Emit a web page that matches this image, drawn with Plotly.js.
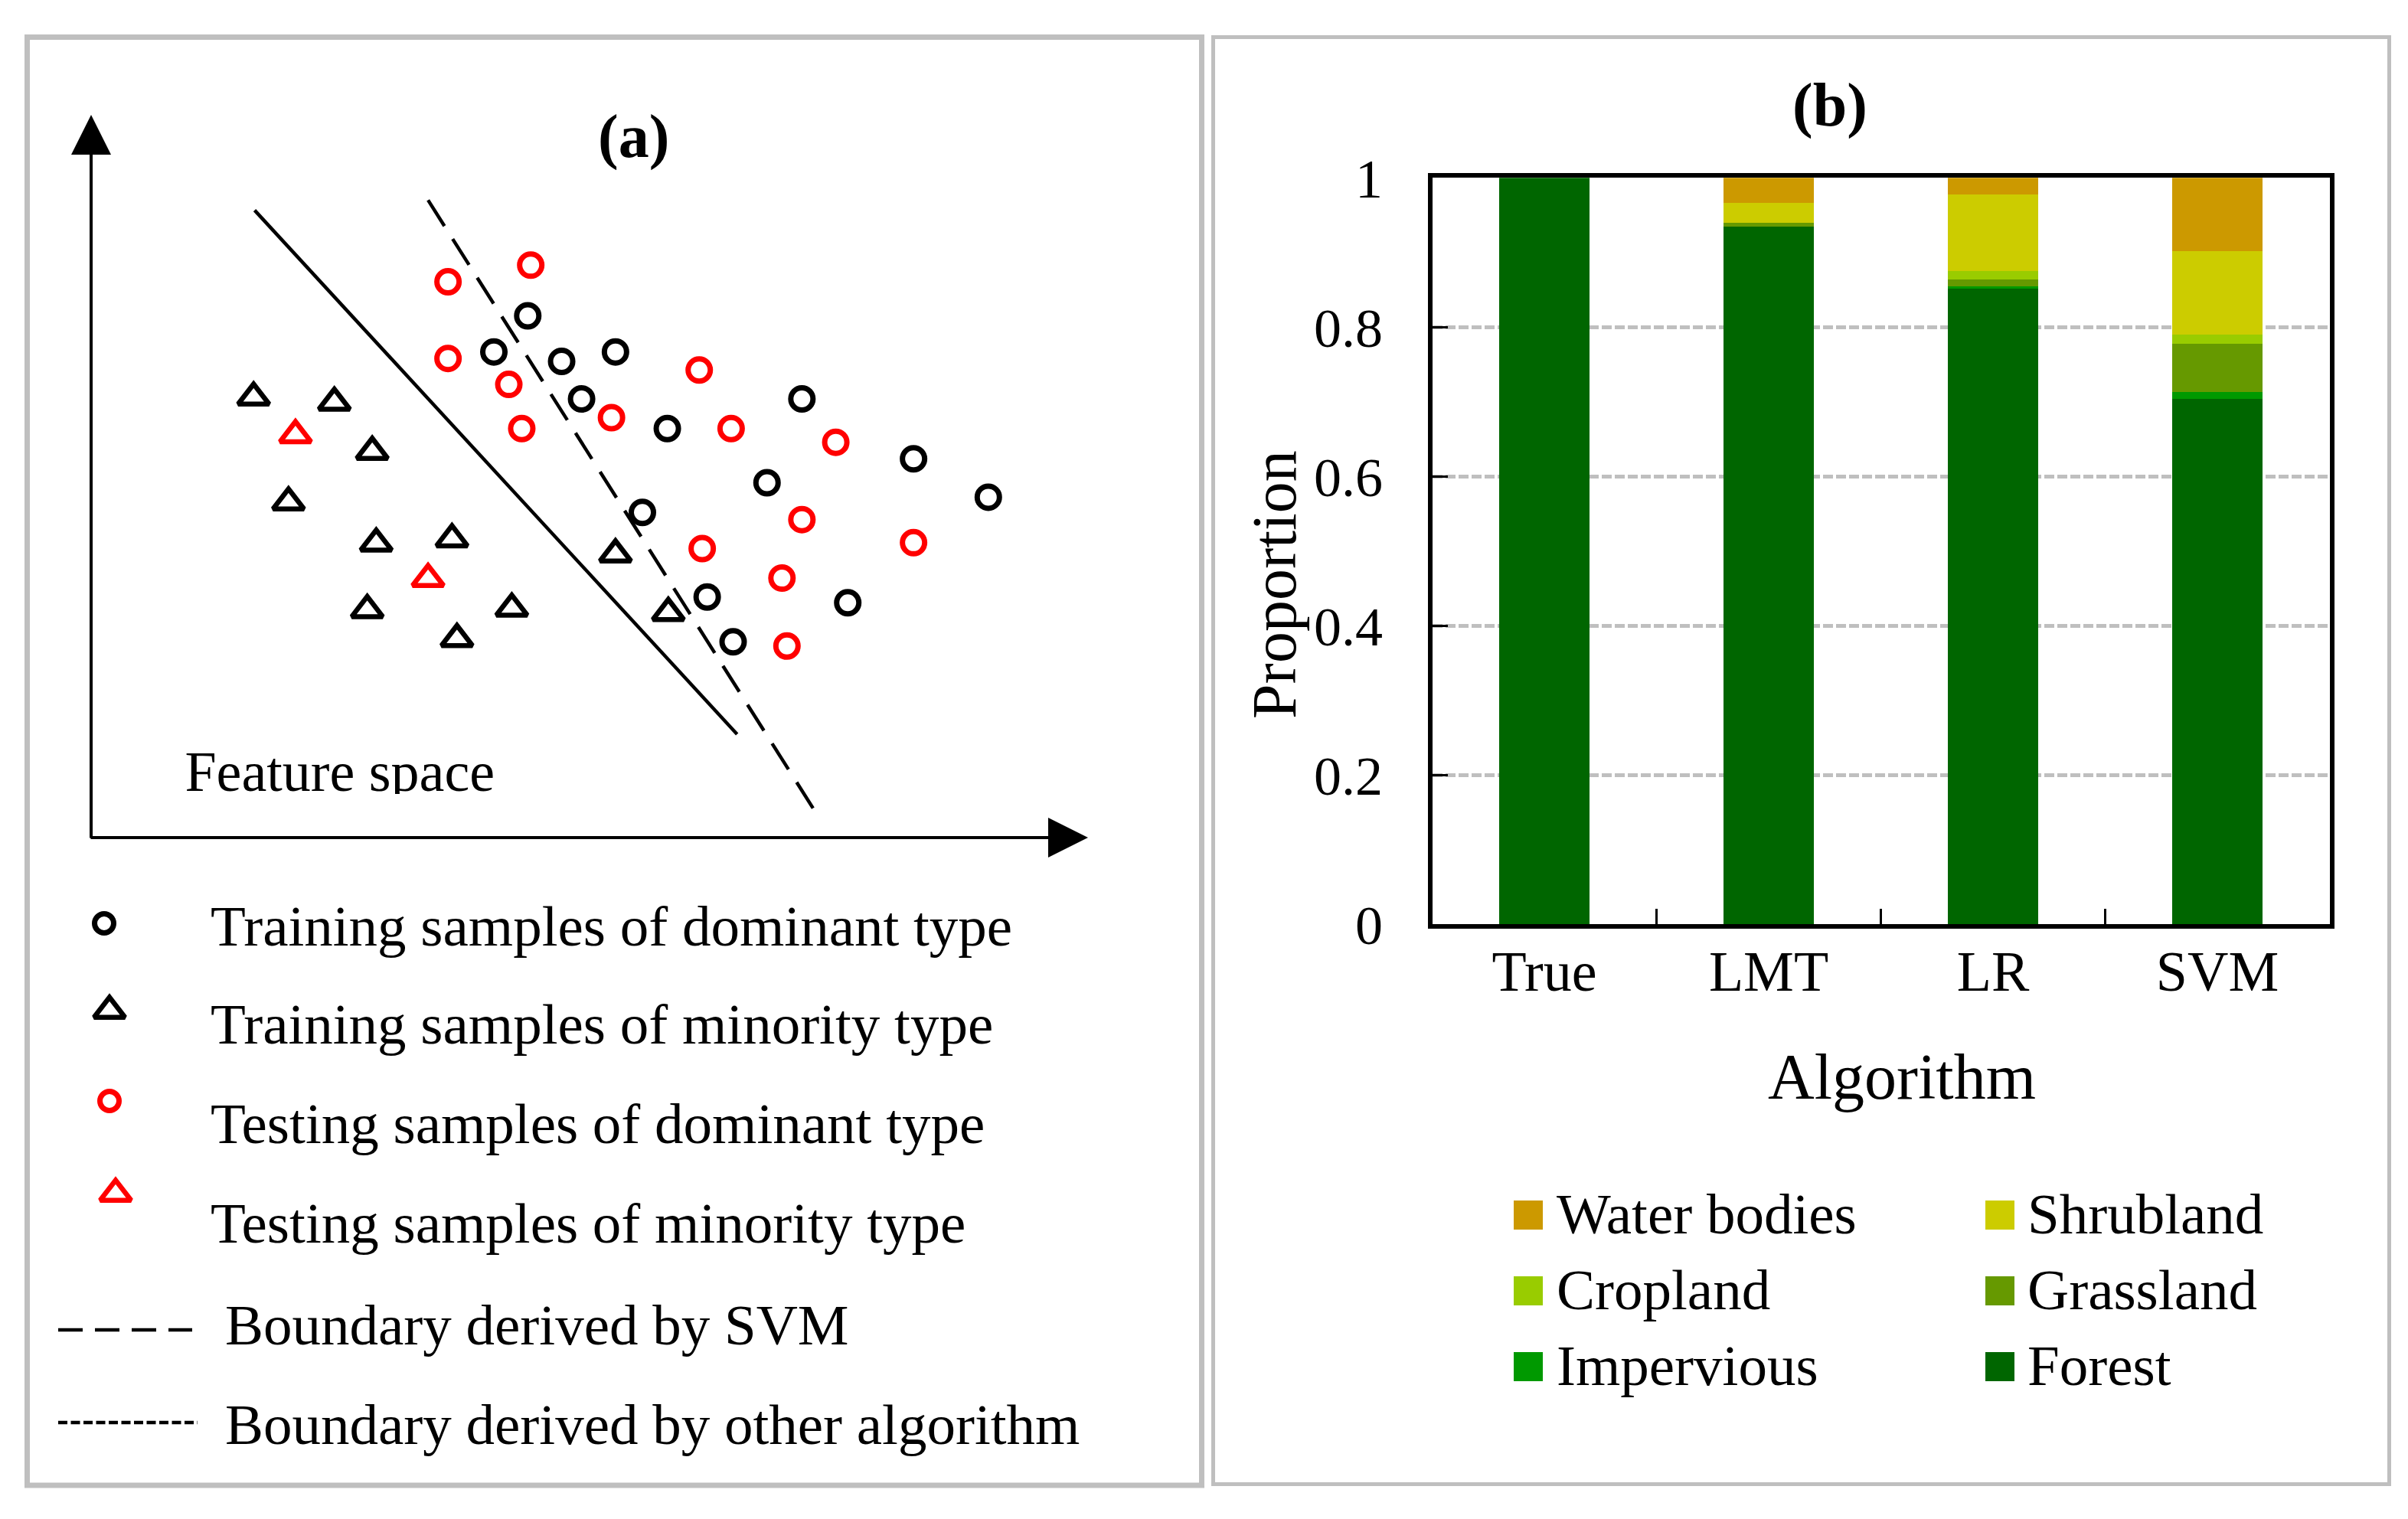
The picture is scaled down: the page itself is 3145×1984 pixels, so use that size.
<!DOCTYPE html>
<html><head><meta charset="utf-8">
<script src="https://cdn.plot.ly/plotly-3.0.1.min.js"></script>
<style>html,body{margin:0;padding:0;background:#fff}#chart{width:3145px;height:1984px}</style>
</head><body><div id="chart"></div>
<script>
// ================= DATA =================
// Panel (b): proportion of land-cover types predicted by each algorithm
const algorithms   = ['True', 'LMT', 'LR', 'SVM'];
const forest       = [1.000, 0.935, 0.852, 0.704];
const impervious   = [0.000, 0.000, 0.003, 0.009];
const grassland    = [0.000, 0.005, 0.009, 0.065];
const cropland     = [0.000, 0.000, 0.011, 0.012];
const shrubland    = [0.000, 0.026, 0.103, 0.112];
const waterBodies  = [0.000, 0.034, 0.022, 0.098];
const stackNames   = ['Forest', 'Impervious', 'Grassland', 'Cropland', 'Shrubland', 'Water bodies']; // bottom -> top
const stackColors  = ['#006600', '#009900', '#669900', '#99CC00', '#CCCC00', '#CC9900'];
const legendBOrder = ['Water bodies', 'Shrubland', 'Cropland', 'Grassland', 'Impervious', 'Forest'];
const yTickVals    = [0, 0.2, 0.4, 0.6, 0.8, 1];

// Panel (a): feature-space sample positions (0-100 units)
const trainDomX = [43.8, 40.4, 47.2, 52.6, 49.2, 57.8, 71.3, 82.5, 90.0, 67.8, 55.3, 61.8, 75.9, 64.4];
const trainDomY = [72.2, 67.2, 65.9, 67.2, 60.7, 56.6, 60.7, 52.4, 47.1, 49.1, 45.0, 33.3, 32.5, 27.1];
const testDomX  = [35.8, 44.1, 35.8, 41.9, 43.2, 52.2, 61.0, 64.2, 74.7, 71.3, 82.5, 61.3, 69.3, 69.8];
const testDomY  = [76.9, 79.2, 66.3, 62.7, 56.6, 58.1, 64.7, 56.6, 54.7, 44.0, 40.8, 40.0, 35.9, 26.5];
const trainMinX = [16.3, 24.4, 28.2, 19.8, 28.6, 36.2, 27.7, 36.7, 42.2, 52.6, 57.9];
const trainMinY = [60.9, 60.2, 53.4, 46.4, 40.7, 41.3, 31.5, 27.5, 31.7, 39.2, 31.1];
const testMinX  = [20.5, 33.8];
const testMinY  = [55.7, 35.8];
const otherBoundaryX = [16.4, 64.8];
const otherBoundaryY = [86.8, 14.3];
const svmBoundaryX   = [33.8, 73.0];
const svmBoundaryY   = [88.2, 2.8];
const legendALabels = ['Training samples of dominant type', 'Training samples of minority type',
  'Testing samples of dominant type', 'Testing samples of minority type',
  'Boundary derived by SVM', 'Boundary derived by other algorithm'];

// ================= LAYOUT HELPERS =================
const W = 3145, H = 1984;
const PX = x => x / W, PY = y => 1 - y / H;
const FONT = 'Liberation Serif, Times New Roman, serif';
const seriesValues = {'Forest': forest, 'Impervious': impervious, 'Grassland': grassland,
  'Cropland': cropland, 'Shrubland': shrubland, 'Water bodies': waterBodies};
const colorOf = n => stackColors[stackNames.indexOf(n)];

const traces = [];
// ---- panel (b) bars ----
stackNames.forEach((n, i) => {
  traces.push({type: 'bar', x: algorithms, y: seriesValues[n], name: n, xaxis: 'x', yaxis: 'y',
    marker: {color: stackColors[i], line: {width: 0}}, showlegend: false, hoverinfo: 'skip'});
});

// ---- panel (a) ----
traces.push({type: 'scatter', mode: 'lines', x: otherBoundaryX, y: otherBoundaryY, xaxis: 'x2', yaxis: 'y2',
  line: {color: 'black', width: 4.5}, showlegend: false, hoverinfo: 'skip'});
traces.push({type: 'scatter', mode: 'lines', x: svmBoundaryX, y: svmBoundaryY, xaxis: 'x2', yaxis: 'y2',
  line: {color: 'black', width: 4.5, dash: '40px,20px'}, showlegend: false, hoverinfo: 'skip'});
const CIRC = {size: 29, lw: 7, legSize: 25}, TRI = {size: 35, lw: 6.5, legSize: 35};
const sampleSets = [
  {x: trainDomX, y: trainDomY, sym: 'circle-open', color: 'black', m: CIRC},
  {x: trainMinX, y: trainMinY, sym: 'triangle-up-open', color: 'black', m: TRI},
  {x: testDomX, y: testDomY, sym: 'circle-open', color: '#FF0000', m: CIRC},
  {x: testMinX, y: testMinY, sym: 'triangle-up-open', color: '#FF0000', m: TRI}
];
sampleSets.forEach(s => traces.push({type: 'scatter', mode: 'markers', x: s.x, y: s.y, xaxis: 'x2', yaxis: 'y2',
  marker: {symbol: s.sym, size: s.m.size, color: s.color, line: {color: s.color, width: s.m.lw}},
  showlegend: false, hoverinfo: 'skip', cliponaxis: false}));
traces.push({type: 'scatter', mode: 'text', x: [9.4], y: [8.4], text: ['Feature space'], xaxis: 'x2', yaxis: 'y2',
  textposition: 'middle right', textfont: {family: FONT, size: 74, color: 'black'},
  showlegend: false, hoverinfo: 'skip', cliponaxis: false});

// ---- panel (a) legend (overlay axis in pixel units) ----
const legAMarkX = [136, 143, 143, 151], legAMarkY = [1206, 1320, 1438, 1559];
sampleSets.forEach((s, i) => traces.push({type: 'scatter', mode: 'markers', x: [legAMarkX[i]], y: [legAMarkY[i]],
  xaxis: 'x3', yaxis: 'y3',
  marker: {symbol: s.sym, size: s.m.legSize, color: s.color, line: {color: s.color, width: s.m.lw}},
  showlegend: false, hoverinfo: 'skip', cliponaxis: false}));
traces.push({type: 'scatter', mode: 'lines', x: [76, 251], y: [1737, 1737], xaxis: 'x3', yaxis: 'y3',
  line: {color: 'black', width: 4.5, dash: '32px,16px'}, showlegend: false, hoverinfo: 'skip'});
traces.push({type: 'scatter', mode: 'lines', x: [76, 258], y: [1858, 1858], xaxis: 'x3', yaxis: 'y3',
  line: {color: 'black', width: 4.5, dash: '12px,4.5px'}, showlegend: false, hoverinfo: 'skip'});

// ---- panel (b) legend swatches ----
const legBColX = [1996, 2612], legBTextX = [2031, 2646], legBRowY = [1587, 1686, 1785];
traces.push({type: 'scatter', mode: 'markers', xaxis: 'x3', yaxis: 'y3',
  x: legendBOrder.map((n, i) => legBColX[i % 2]), y: legendBOrder.map((n, i) => legBRowY[Math.floor(i / 2)]),
  marker: {symbol: 'square', size: 38, color: legendBOrder.map(colorOf), line: {width: 0}},
  showlegend: false, hoverinfo: 'skip', cliponaxis: false});

// ================= ANNOTATIONS =================
const ann = [];
const txt = (text, x, y, size, opts) => Object.assign({text: text, x: PX(x), y: PY(y), xref: 'paper', yref: 'paper',
  showarrow: false, font: {family: FONT, size: size, color: 'black'}, xanchor: 'center', yanchor: 'middle'}, opts || {});
ann.push(txt('<b>(a)</b>', 827, 178, 80));
ann.push(txt('<b>(b)</b>', 2390, 137, 80));
ann.push(txt('Algorithm', 2484, 1406, 84));
ann.push(txt('Proportion', 1665, 764, 82, {textangle: -90}));
const legATextX = [273, 273, 273, 273, 292, 292], legATextY = [1209, 1337, 1467, 1597, 1730, 1860];
legendALabels.forEach((t, i) => ann.push(txt(t, legATextX[i], legATextY[i], 75, {xanchor: 'left'})));
legendBOrder.forEach((t, i) => ann.push(txt(t, legBTextX[i % 2], legBRowY[Math.floor(i / 2)] - 2, 75, {xanchor: 'left'})));
// feature-space axes with arrow heads
const arrow = (x, y, ax, ay) => ({x: x, y: y, ax: ax, ay: ay, xref: 'x3', yref: 'y3', axref: 'x3', ayref: 'y3',
  text: '', showarrow: true, arrowhead: 2, arrowsize: 2.6, arrowwidth: 4, arrowcolor: 'black', standoff: 0});
ann.push(arrow(119, 150, 119, 1096));
ann.push(arrow(1421, 1094, 117, 1094));

// ================= SHAPES =================
const shapes = [
  {type: 'rect', xref: 'paper', yref: 'paper', x0: PX(35.5), x1: PX(1569.5), y0: PY(48.5), y1: PY(1940),
    line: {color: '#BFBFBF', width: 7}},
  {type: 'rect', xref: 'paper', yref: 'paper', x0: PX(1584.5), x1: PX(3120.5), y0: PY(48.5), y1: PY(1938.5),
    line: {color: '#BFBFBF', width: 5}},
  // the original crops the bottom of the "Feature space" caption
  {type: 'rect', xref: 'paper', yref: 'paper', x0: PX(230), x1: PX(670), y0: PY(1037), y1: PY(1088),
    fillcolor: 'white', line: {width: 0}, layer: 'above'}
];

const layout = {
  width: W, height: H, margin: {l: 0, r: 0, t: 0, b: 0}, paper_bgcolor: 'white', plot_bgcolor: 'rgba(0,0,0,0)',
  font: {family: FONT, color: 'black'}, showlegend: false, barmode: 'stack', bargap: 0.597,
  xaxis: {domain: [PX(1870.5), PX(3042.5)], type: 'category', showline: true, linecolor: 'black', linewidth: 6,
    mirror: true, ticks: 'inside', ticklen: 20, tickwidth: 3, tickcolor: 'black', tickson: 'boundaries',
    showgrid: false, zeroline: false, tickfont: {family: FONT, size: 74, color: 'black'}, ticklabelstandoff: -8,
    anchor: 'y', fixedrange: true},
  yaxis: {domain: [PY(1207.3), PY(232.3)], range: [0, 1], tickvals: yTickVals, showline: true, linecolor: 'black',
    linewidth: 6, mirror: true, ticks: 'inside', ticklen: 20, tickwidth: 3, tickcolor: 'black',
    showgrid: true, gridcolor: '#BFBFBF', gridwidth: 5, griddash: '13px,4px', zeroline: false,
    tickfont: {family: FONT, size: 72, color: 'black'}, ticklabelstandoff: 44, anchor: 'x', fixedrange: true},
  xaxis2: {domain: [PX(119), PX(1421)], range: [0, 100], visible: false, anchor: 'y2', fixedrange: true},
  yaxis2: {domain: [PY(1094), PY(150)], range: [0, 100], visible: false, anchor: 'x2', fixedrange: true},
  xaxis3: {domain: [0, 1], range: [0, W], visible: false, anchor: 'y3', fixedrange: true},
  yaxis3: {domain: [0, 1], range: [H, 0], visible: false, anchor: 'x3', fixedrange: true},
  annotations: ann, shapes: shapes
};

Plotly.newPlot('chart', traces, layout, {staticPlot: true, displayModeBar: false});
</script></body></html>
